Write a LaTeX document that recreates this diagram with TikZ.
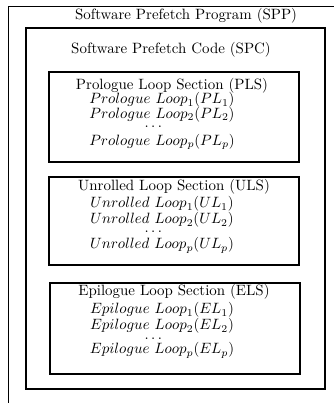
\documentclass[tikz,border=0pt]{standalone}
\usetikzlibrary{fit}
\begin{document}
\begin{tikzpicture}[x=0.67pt, y=-0.67pt,
  outerline/.style={line width=0.65pt},
  framebox/.style={draw, line width=1.25pt, inner sep=0pt},
  label/.style={inner sep=0pt, anchor=center},
  looplist/.style={inner sep=0pt, anchor=north, align=center},
  ]
  \useasboundingbox (0,0) rectangle (334,403);
  % program frame, running past the page edge
  \coordinate (sppbl) at (8,403);
  \coordinate (spptl) at (8,6);
  \coordinate (spptr) at (334,6);
  \draw[outerline] (sppbl) -- (spptl) -- (spptr);
  \node[label] (spptitle) at (186,16) {Software Prefetch Program (SPP)};

  % code frame
  \node[framebox, fit={(26,28) (325,389)}] (spc) {};
  \node[label] (spctitle) at (171,50) {Software Prefetch Code (SPC)};

  % prologue section
  \node[framebox, fit={(49,72) (299,162)}] (pls) {};
  \node[label] (plstitle) at (172,86) {Prologue Loop Section (PLS)};
  \node[looplist] (plbody) at (162,92.5)
    {$Prologue\ Loop_1(PL_1)$\\[-2.6pt]
     $Prologue\ Loop_2(PL_2)$\\[-5.9pt]
     \makebox[0pt][r]{$\ldots$}\\
     $Prologue\ Loop_p(PL_p)$};

  % unrolled section
  \node[framebox, fit={(49,177) (299,265)}] (uls) {};
  \node[label] (ulstitle) at (174,187) {Unrolled Loop Section (ULS)};
  \node[looplist] (ulbody) at (162,196.5)
    {$Unrolled\ Loop_1(UL_1)$\\[-1.3pt]
     $Unrolled\ Loop_2(UL_2)$\\[-6.6pt]
     \makebox[0pt][r]{$\ldots$}\\[-0.7pt]
     $Unrolled\ Loop_p(UL_p)$};

  % epilogue section
  \node[framebox, fit={(50,283) (300,374)}] (els) {};
  \node[label] (elstitle) at (174,292) {Epilogue Loop Section (ELS)};
  \node[looplist] (elbody) at (162,302.5)
    {$Epilogue\ Loop_1(EL_1)$\\[-1.3pt]
     $Epilogue\ Loop_2(EL_2)$\\[-5.9pt]
     \makebox[0pt][r]{$\ldots$}\\[-2pt]
     $Epilogue\ Loop_p(EL_p)$};
\end{tikzpicture}
\end{document}
